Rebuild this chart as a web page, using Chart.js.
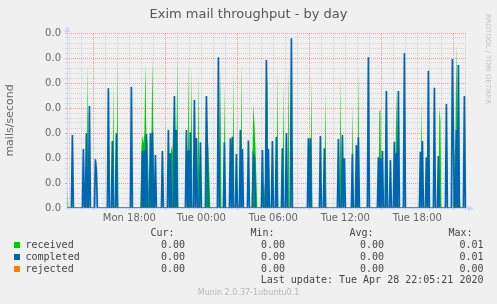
<!DOCTYPE html>
<html><head><meta charset="utf-8"><title>Exim mail throughput - by day</title>
<script src="https://cdn.jsdelivr.net/npm/chart.js@4.4.1/dist/chart.umd.min.js"></script>
<style>
html,body{margin:0;padding:0;background:#f0f0f0;}
#wrap{position:relative;width:497px;height:304px;overflow:hidden;background:#f0f0f0;}
#c{position:absolute;left:0;top:0;}
.abs{position:absolute;white-space:pre;}
#title{left:0;top:6px;width:497px;text-align:center;font:13px/16px "DejaVu Sans",sans-serif;color:#555;}
.mono{position:absolute;white-space:pre;font:10px/12px "DejaVu Sans Mono",monospace;color:#444;}
.sw{position:absolute;width:6px;height:6px;}
#foot{left:0;width:497px;top:288px;text-align:center;font:8px/10px "DejaVu Sans",sans-serif;color:#b8b8b8;}
#wm{left:492px;top:14px;font:7px/9px "DejaVu Sans",sans-serif;color:#c4c4c4;transform:rotate(90deg);transform-origin:0 0;}
</style></head><body>
<div id="wrap">
<canvas id="c" width="497" height="304"></canvas>
<div id="title" class="abs">Exim mail throughput - by day</div>
<div id="wm" class="abs">RRDTOOL / TOBI OETIKER</div>
<div id="legend"></div>
<div id="foot" class="abs">Munin 2.0.37-1ubuntu0.1</div>
</div>
<script>
// ---- data (mails/second, 5-minute samples; unlisted samples read as 0) ----
const windowStart = 'Mon 12:48';
const windowMinutes = 2000;
const xTickLabels = ['Mon 18:00', 'Tue 00:00', 'Tue 06:00', 'Tue 12:00', 'Tue 18:00'];
const yTickValues = [0, 0.001, 0.002, 0.003, 0.004, 0.005, 0.006, 0.007];

const receivedTimes = ['Mon 12:50','Mon 14:30','Mon 16:40','Mon 17:00',
 'Mon 19:00','Mon 19:05','Mon 19:10','Mon 19:15','Mon 19:20','Mon 19:25','Mon 19:30','Mon 19:35',
 'Mon 19:50','Mon 19:55','Mon 20:00',
 'Mon 21:25','Mon 21:30','Mon 21:35','Mon 21:40','Mon 21:45','Mon 21:50','Mon 21:55','Mon 22:00',
 'Mon 22:55','Mon 23:10','Mon 23:45',
 'Tue 00:25','Tue 00:30','Tue 00:35','Tue 00:40',
 'Tue 01:35','Tue 01:55','Tue 02:40','Tue 03:20',
 'Tue 04:15','Tue 04:20','Tue 04:25','Tue 04:30','Tue 04:35',
 'Tue 05:15','Tue 05:20','Tue 05:25','Tue 05:30','Tue 05:35',
 'Tue 06:20','Tue 06:50','Tue 07:15','Tue 09:10','Tue 10:20','Tue 11:35','Tue 12:35','Tue 12:55','Tue 13:05',
 'Tue 14:50','Tue 14:55','Tue 15:20','Tue 16:10','Tue 16:15','Tue 16:20','Tue 18:20',
 'Tue 18:50','Tue 18:55','Tue 19:50','Tue 19:55',
 'Tue 21:05','Tue 21:10','Tue 21:15','Tue 21:20','Tue 21:25','Tue 21:30'];
const receivedValues = [0.0008,0.0058,0.0050,0.00585,
 0.0024,0.0029,0.0026,0.0030,0.0058,0.0028,0.0027,0.0015,
 0.0026,0.0060,0.0025,
 0.0020,0.0025,0.0022,0.0038,0.0025,0.0026,0.0024,0.0060,
 0.0059,0.0057,0.0054,
 0.0043,0.0030,0.0024,0.0012,
 0.0056,0.0049,0.0054,0.0058,
 0.0020,0.0042,0.0034,0.0025,0.0012,
 0.0008,0.0012,0.0042,0.0054,0.0008,
 0.0055,0.0050,0.0056,0.0052,0.0047,0.0053,0.0042,0.0010,0.0055,
 0.0039,0.0039,0.0044,0.0015,0.0048,0.0020,0.0044,
 0.0020,0.0020,0.0040,0.0035,
 0.0020,0.0028,0.0066,0.0028,0.0026,0.0010];

const completedTimes = ['Mon 13:15','Mon 14:10','Mon 14:25','Mon 14:40','Mon 15:10','Mon 15:15','Mon 16:15','Mon 16:35','Mon 16:55',
 'Mon 18:10','Mon 19:05','Mon 19:15','Mon 19:25','Mon 19:45','Mon 19:55','Mon 20:10','Mon 20:45','Mon 21:15','Mon 21:25',
 'Mon 21:45','Mon 21:55','Mon 22:45','Mon 22:55','Mon 23:05','Mon 23:25','Mon 23:35','Mon 23:55',
 'Tue 00:25','Tue 00:30','Tue 01:25','Tue 01:55','Tue 02:25','Tue 02:35','Tue 02:55','Tue 03:15','Tue 03:25','Tue 03:55',
 'Tue 04:20','Tue 04:25','Tue 05:05','Tue 05:25','Tue 05:35','Tue 05:55','Tue 06:15','Tue 06:45','Tue 07:05','Tue 07:30',
 'Tue 08:55','Tue 09:05','Tue 09:55','Tue 10:15','Tue 11:25','Tue 11:45','Tue 11:55','Tue 12:35','Tue 12:55','Tue 13:05',
 'Tue 13:55','Tue 14:45','Tue 14:55','Tue 15:05','Tue 15:25','Tue 15:45','Tue 16:05','Tue 16:15','Tue 16:25','Tue 16:55',
 'Tue 18:15','Tue 18:25','Tue 18:45','Tue 18:55','Tue 19:25','Tue 19:45','Tue 20:25','Tue 20:55','Tue 21:00','Tue 21:15',
 'Tue 21:25','Tue 21:55'];
const completedValues = [0.00292,0.00236,0.00299,0.00408,0.00195,0.00150,0.00479,0.00268,0.00299,
 0.00484,0.00228,0.00232,0.00296,0.00299,0.00303,0.00212,0.00228,0.00312,0.00219,
 0.00448,0.00312,0.00312,0.00230,0.00303,0.00432,0.00280,0.00263,
 0.00448,0.00220,0.00603,0.00263,0.00279,0.00285,0.00216,0.00312,0.00236,0.00270,
 0.00212,0.00200,0.00232,0.00592,0.00236,0.00268,0.00284,0.00239,0.00299,0.00679,
 0.00279,0.00279,0.00288,0.00239,0.00276,0.00292,0.00199,0.00216,0.00252,0.00283,
 0.00603,0.00203,0.00199,0.00228,0.00468,0.00192,0.00265,0.00220,0.00468,0.00619,
 0.00225,0.00268,0.00203,0.00549,0.00481,0.00208,0.00416,0.00596,0.00292,0.00312,
 0.00572,0.00448];

const rejectedTimes = [];
const rejectedValues = [];

const seriesNames = ['received', 'completed', 'rejected'];
const seriesColors = ['#00cc00', '#0066b3', '#ff8000'];
const curValues = ['0.00', '0.00', '0.00'];
const minValues = ['0.00', '0.00', '0.00'];
const avgValues = ['0.00', '0.00', '0.00'];
const maxValues = ['0.01', '0.01', '0.00'];
const lastUpdate = 'Last update: Tue Apr 28 22:05:21 2020';

// ---- helpers ----
function parseT(s) {
  const [d, hm] = s.split(' ');
  const [h, m] = hm.split(':').map(Number);
  return (d === 'Tue' ? 24 : 0) + h + m / 60;
}
const xStart = parseT(windowStart);
const xEnd = xStart + windowMinutes / 60;

function buildSeries(times, values) {
  const byKey = {};
  times.forEach((t, i) => { byKey[Math.round(parseT(t) * 12)] = values[i]; });
  const pts = [];
  const k0 = Math.ceil(xStart * 12 - 1e-9), k1 = Math.floor(xEnd * 12 + 1e-9);
  for (let k = k0; k <= k1; k++) pts.push({ x: k / 12, y: byKey[k] || 0 });
  return pts;
}
const xTickHours = xTickLabels.map(parseT);

const MAJOR_RED = 'rgba(240,40,40,0.42)';
const MINOR_GRAY = 'rgba(140,140,140,0.28)';
const AXIS = '#cfd6f8';

const axisPlugin = {
  id: 'rrdAxes',
  beforeDatasetsDraw(chart) {
    const { ctx, chartArea: a } = chart;
    ctx.save();
    ctx.strokeStyle = AXIS; ctx.fillStyle = AXIS; ctx.lineWidth = 1;
    ctx.beginPath();
    ctx.moveTo(a.left + 0.5, a.bottom + 2); ctx.lineTo(a.left + 0.5, a.top - 3);
    ctx.moveTo(a.left - 2, a.bottom + 0.5); ctx.lineTo(a.right + 2, a.bottom + 0.5);
    ctx.stroke();
    ctx.beginPath();
    ctx.moveTo(a.left + 0.5, a.top - 7); ctx.lineTo(a.left - 2.5, a.top - 1); ctx.lineTo(a.left + 3.5, a.top - 1); ctx.closePath();
    ctx.fill();
    ctx.beginPath();
    ctx.moveTo(a.right + 7, a.bottom + 0.5); ctx.lineTo(a.right + 1, a.bottom - 2.5); ctx.lineTo(a.right + 1, a.bottom + 3.5); ctx.closePath();
    ctx.fill();
    ctx.restore();
  }
};

new Chart(document.getElementById('c'), {
  type: 'line',
  data: {
    datasets: [
      { label: seriesNames[2], data: buildSeries(rejectedTimes, rejectedValues), borderColor: 'rgba(255,128,0,0.6)', borderWidth: 1, pointRadius: 0, fill: false },
      { label: seriesNames[1], data: buildSeries(completedTimes, completedValues), borderColor: seriesColors[1], borderWidth: 1.7, pointRadius: 0, fill: 'origin', backgroundColor: 'rgba(0,102,179,0.25)' },
      { label: seriesNames[0], data: buildSeries(receivedTimes, receivedValues), borderWidth: 0, borderColor: 'rgba(0,0,0,0)', pointRadius: 0, fill: 'origin', backgroundColor: seriesColors[0] }
    ]
  },
  options: {
    responsive: false, animation: false, devicePixelRatio: 1,
    layout: { padding: { left: 0, right: 30, top: 33, bottom: 0 } },
    plugins: { legend: { display: false }, tooltip: { enabled: false }, title: { display: false } },
    elements: { line: { tension: 0 } },
    scales: {
      x: {
        type: 'linear', min: xStart, max: xEnd, offset: false,
        afterBuildTicks: s => {
          const t = [];
          for (let h = Math.ceil(xStart); h <= Math.floor(xEnd); h++) t.push({ value: h });
          s.ticks = t;
        },
        afterFit: s => { s.height = 96; },
        ticks: {
          autoSkip: false, maxRotation: 0, padding: 2, color: '#666',
          font: { family: 'DejaVu Sans', size: 10 },
          callback: v => { const i = xTickHours.findIndex(h => Math.abs(h - v) < 1e-6); return i >= 0 ? xTickLabels[i] : ''; }
        },
        grid: {
          color: c => (c.tick && ((Math.round(c.tick.value) % 6) === 3) ? MAJOR_RED : MINOR_GRAY),
          tickColor: c => (c.tick && ((Math.round(c.tick.value) % 6) === 3) ? MAJOR_RED : MINOR_GRAY),
          lineWidth: 1, tickLength: 2, drawTicks: true
        },
        border: { display: false, dash: [1, 1] }
      },
      y: {
        min: 0, max: yTickValues[yTickValues.length - 1],
        afterBuildTicks: s => {
          const t = [];
          for (let i = 0; i < yTickValues.length - 1; i++) {
            const a = yTickValues[i], b = yTickValues[i + 1];
            for (let j = 0; j < 5; j++) t.push({ value: a + (b - a) * j / 5, major: j === 0 });
          }
          t.push({ value: yTickValues[yTickValues.length - 1], major: true });
          s.ticks = t;
        },
        afterFit: s => { s.width = 67; },
        ticks: {
          autoSkip: false, padding: 4, color: '#666',
          font: { family: 'DejaVu Sans', size: 10 },
          callback: (v, i) => (i % 5 === 0 ? Number(v).toFixed(1) : '')
        },
        grid: {
          color: c => (c.index % 5 === 0 ? MAJOR_RED : MINOR_GRAY),
          tickColor: c => (c.index % 5 === 0 ? MAJOR_RED : MINOR_GRAY),
          lineWidth: 1, tickLength: 2, drawTicks: true
        },
        border: { display: false, dash: [1, 1] },
        title: { display: true, text: 'mails/second', color: '#666', font: { family: 'DejaVu Sans', size: 11 }, padding: { top: 4, bottom: 0 } }
      }
    }
  },
  plugins: [axisPlugin]
});

// ---- legend (text) ----
const L = document.getElementById('legend');
function addText(txt, left, right, top) {
  const d = document.createElement('div');
  d.className = 'mono';
  d.textContent = txt;
  if (left != null) d.style.left = left + 'px';
  if (right != null) d.style.right = (497 - right) + 'px';
  d.style.top = top + 'px';
  L.appendChild(d);
}
const headers = ['Cur:', 'Min:', 'Avg:', 'Max:'];
const headerRight = [174.5, 274.5, 373.5, 472.5];
const valueRight = [185, 285, 384, 483.5];
headers.forEach((h, i) => addText(h, null, headerRight[i], 227));
const cols = [curValues, minValues, avgValues, maxValues];
seriesNames.forEach((n, r) => {
  const top = 239 + r * 12;
  const sw = document.createElement('div');
  sw.className = 'sw';
  sw.style.left = '14px'; sw.style.top = (top + 3) + 'px';
  sw.style.background = seriesColors[r];
  L.appendChild(sw);
  addText(n, 25.5, null, top);
  cols.forEach((col, c) => addText(col[r], null, valueRight[c], top));
});
addText(lastUpdate, null, 483.5, 274);
</script>
</body></html>
